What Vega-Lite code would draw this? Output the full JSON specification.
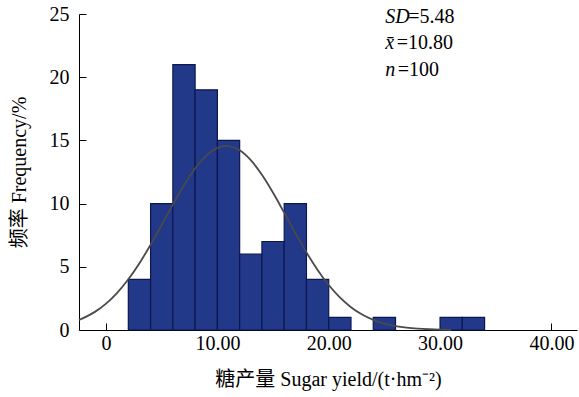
{
  "$schema": "https://vega.github.io/schema/vega-lite/v6.json",
  "width": 498,
  "height": 316,
  "autosize": {"type": "none"},
  "padding": {"left": 79, "top": 14, "right": 2, "bottom": 67},
  "background": "white",
  "config": {
    "view": {"stroke": null},
    "font": "Liberation Serif, Noto Sans CJK SC",
    "axis": {
      "grid": false,
      "domainColor": "#000000",
      "domainWidth": 1,
      "tickColor": "#000000",
      "tickWidth": 1,
      "tickSize": -7,
      "labelFont": "Liberation Serif",
      "labelFontSize": 20,
      "labelColor": "#000000",
      "titleFont": "Liberation Serif, Noto Sans CJK SC",
      "titleFontSize": 20,
      "titleFontWeight": "normal",
      "titleColor": "#000000"
    }
  },
  "datasets": {
    "bins": [
      {"bin_start": 2, "bin_end": 4, "freq": 4},
      {"bin_start": 4, "bin_end": 6, "freq": 10},
      {"bin_start": 6, "bin_end": 8, "freq": 21},
      {"bin_start": 8, "bin_end": 10, "freq": 19},
      {"bin_start": 10, "bin_end": 12, "freq": 15},
      {"bin_start": 12, "bin_end": 14, "freq": 6},
      {"bin_start": 14, "bin_end": 16, "freq": 7},
      {"bin_start": 16, "bin_end": 18, "freq": 10},
      {"bin_start": 18, "bin_end": 20, "freq": 4},
      {"bin_start": 20, "bin_end": 22, "freq": 1},
      {"bin_start": 24, "bin_end": 26, "freq": 1},
      {"bin_start": 30, "bin_end": 32, "freq": 1},
      {"bin_start": 32, "bin_end": 34, "freq": 1}
    ],
    "curve": [
      {"x": -2.43, "y": 0.79},
      {"x": -1, "y": 1.434},
      {"x": 0, "y": 2.088},
      {"x": 1, "y": 2.943},
      {"x": 2, "y": 4.01},
      {"x": 3, "y": 5.288},
      {"x": 4, "y": 6.743},
      {"x": 5, "y": 8.317},
      {"x": 6, "y": 9.921},
      {"x": 7, "y": 11.449},
      {"x": 8, "y": 12.778},
      {"x": 9, "y": 13.795},
      {"x": 10, "y": 14.405},
      {"x": 10.8, "y": 14.56},
      {"x": 11, "y": 14.55},
      {"x": 12, "y": 14.215},
      {"x": 13, "y": 13.433},
      {"x": 14, "y": 12.277},
      {"x": 15, "y": 10.855},
      {"x": 16, "y": 9.282},
      {"x": 17, "y": 7.678},
      {"x": 18, "y": 6.141},
      {"x": 19, "y": 4.754},
      {"x": 20, "y": 3.557},
      {"x": 21, "y": 2.576},
      {"x": 22, "y": 1.804},
      {"x": 23, "y": 1.222},
      {"x": 24, "y": 0.8},
      {"x": 25, "y": 0.507},
      {"x": 26, "y": 0.311},
      {"x": 27, "y": 0.184},
      {"x": 28, "y": 0.106},
      {"x": 29, "y": 0.059},
      {"x": 30, "y": 0.031},
      {"x": 31, "y": 0.016}
    ]
  },
  "layer": [
    {
      "data": {"name": "bins"},
      "mark": {"type": "rect", "fill": "#22398a", "stroke": "#0c1750", "strokeWidth": 1.2},
      "encoding": {
        "x": {
          "field": "bin_start",
          "type": "quantitative",
          "scale": {"domain": [-2.43, 42.3], "nice": false, "zero": false},
          "axis": {
            "values": [0, 10, 20, 30, 40],
            "labelExpr": "datum.value == 0 ? '0' : format(datum.value, '.2f')",
            "labelPadding": 10,
            "title": "糖产量 Sugar yield/(t·hm⁻²)",
            "titlePadding": 16
          }
        },
        "x2": {"field": "bin_end"},
        "y": {
          "field": "freq",
          "type": "quantitative",
          "scale": {"domain": [0, 25], "nice": false},
          "axis": {
            "values": [0, 5, 10, 15, 20, 25],
            "labelPadding": 17,
            "title": "频率 Frequency/%",
            "titlePadding": 20
          }
        }
      }
    },
    {
      "data": {"name": "curve"},
      "mark": {"type": "line", "color": "#4a4a4a", "strokeWidth": 1.8, "interpolate": "monotone"},
      "encoding": {
        "x": {"field": "x", "type": "quantitative"},
        "y": {"field": "y", "type": "quantitative"}
      }
    },
    {
      "data": {"values": [{"t": "SD"}]},
      "mark": {"type": "text", "font": "Liberation Serif", "fontSize": 20, "fontStyle": "italic", "align": "left", "baseline": "middle"},
      "encoding": {"x": {"datum": 25.08}, "y": {"datum": 24.8}, "text": {"field": "t"}}
    },
    {
      "data": {"values": [{"t": "=5.48"}]},
      "mark": {"type": "text", "font": "Liberation Serif", "fontSize": 20, "align": "left", "baseline": "middle"},
      "encoding": {"x": {"datum": 27.15}, "y": {"datum": 24.8}, "text": {"field": "t"}}
    },
    {
      "data": {"values": [{"t": "x̄"}]},
      "mark": {"type": "text", "font": "Liberation Serif", "fontSize": 20, "fontStyle": "italic", "align": "left", "baseline": "middle"},
      "encoding": {"x": {"datum": 25.08}, "y": {"datum": 22.7}, "text": {"field": "t"}}
    },
    {
      "data": {"values": [{"t": "=10.80"}]},
      "mark": {"type": "text", "font": "Liberation Serif", "fontSize": 20, "align": "left", "baseline": "middle"},
      "encoding": {"x": {"datum": 26.1}, "y": {"datum": 22.7}, "text": {"field": "t"}}
    },
    {
      "data": {"values": [{"t": "n"}]},
      "mark": {"type": "text", "font": "Liberation Serif", "fontSize": 20, "fontStyle": "italic", "align": "left", "baseline": "middle"},
      "encoding": {"x": {"datum": 25.08}, "y": {"datum": 20.57}, "text": {"field": "t"}}
    },
    {
      "data": {"values": [{"t": "=100"}]},
      "mark": {"type": "text", "font": "Liberation Serif", "fontSize": 20, "align": "left", "baseline": "middle"},
      "encoding": {"x": {"datum": 26.2}, "y": {"datum": 20.57}, "text": {"field": "t"}}
    }
  ]
}
